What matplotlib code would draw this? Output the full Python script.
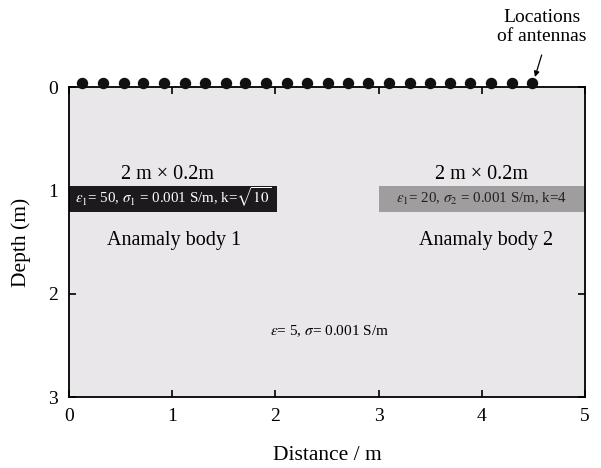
import matplotlib.pyplot as plt
from matplotlib.patches import Rectangle

plt.rcParams['font.family'] = ['Liberation Serif', 'DejaVu Serif']
plt.rcParams['mathtext.fontset'] = 'stix'

# antenna positions along the surface (m)
antenna_x = [0.13, 0.33, 0.53, 0.72, 0.92, 1.12, 1.32, 1.52, 1.71, 1.91, 2.11, 2.31,
             2.51, 2.70, 2.90, 3.10, 3.30, 3.50, 3.69, 3.89, 4.09, 4.29, 4.49]

# anomaly bodies: x start, depth top, width, height
body_x = [0.0, 3.0]
body_depth = [0.96, 0.96]
body_width = [2.02, 2.0]
body_height = [0.25, 0.25]
body_colors = ['#1c1a1c', '#a09d9f']
body_props = [r'$\varepsilon_1$= 50, $\sigma_1$ = 0.001 S/m, k=$\sqrt{10}$',
              r'$\varepsilon_1$= 20, $\sigma_2$ = 0.001 S/m, k=4']
body_text_colors = ['white', '#222222']
body_names = ['Anamaly body 1', 'Anamaly body 2']
body_name_x = [1.02, 4.04]
size_label_x = [0.95, 4.0]

fig = plt.figure(figsize=(6.01, 4.68), dpi=100)
ax = fig.add_axes([0.1148, 0.1517, 0.8586, 0.6624])
ax.set_facecolor('#e9e7ea')
ax.set_xlim(0, 5)
ax.set_ylim(3, 0)

for i in range(2):
    ax.add_patch(Rectangle((body_x[i], body_depth[i]), body_width[i], body_height[i],
                           facecolor=body_colors[i], edgecolor='none', zorder=2))
    ax.text(body_x[i] + body_width[i] / 2, 1.125, body_props[i],
            color=body_text_colors[i], fontsize=10.8,
            ha='center', va='baseline', zorder=3)
    ax.text(size_label_x[i], 0.89, '2 m × 0.2m', fontsize=14.5, ha='center', va='baseline')
    ax.text(body_name_x[i], 1.53, body_names[i], fontsize=14.5, ha='center', va='baseline')

ax.text(2.52, 2.40, r'$\varepsilon$= 5, $\sigma$= 0.001 S/m', fontsize=11,
        ha='center', va='baseline')

ax.plot(antenna_x, [-0.035] * len(antenna_x), 'o', color='#111111', markersize=7.2,
        clip_on=False, zorder=5)

ax.text(4.58, -0.58, 'Locations\nof antennas', fontsize=14, ha='center', va='center',
        linespacing=1.15)
ax.annotate('', xy=(4.515, -0.097), xytext=(4.58, -0.31), annotation_clip=False,
            arrowprops=dict(arrowstyle='-|>', color='black', lw=0.9, mutation_scale=8,
                            shrinkA=0, shrinkB=0))

ax.set_xticks([0, 1, 2, 3, 4, 5])
ax.set_yticks([0, 1, 2, 3])
ax.tick_params(direction='in', top=True, right=True, labelsize=14, length=5, width=1.2, pad=8)
for s in ax.spines.values():
    s.set_linewidth(1.3)

ax.set_xlabel('Distance / m', fontsize=15.5, labelpad=15)
ax.set_ylabel('Depth (m)', fontsize=15.5, labelpad=12)

fig.savefig('out.png', dpi=100)
